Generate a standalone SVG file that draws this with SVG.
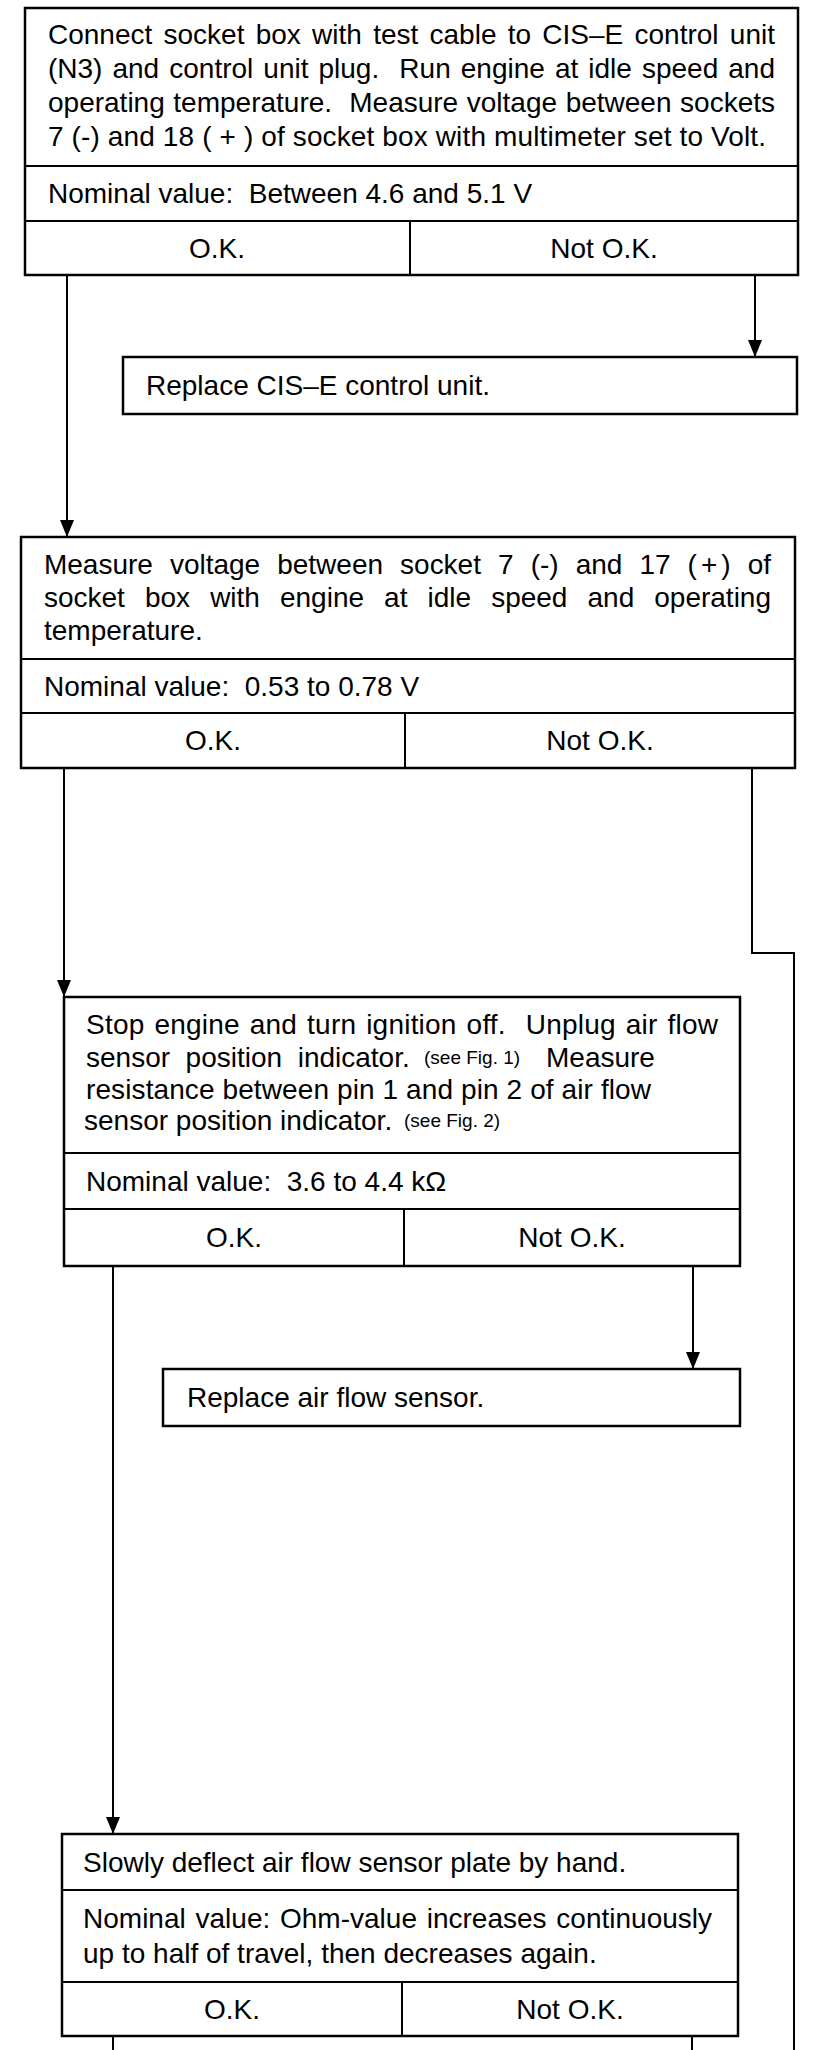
<svg xmlns="http://www.w3.org/2000/svg" width="816" height="2050" viewBox="0 0 816 2050">
<style>
.bg{fill:#fff}
.box{fill:#fff;stroke:#000;stroke-width:2.5}
.dv{stroke:#000;stroke-width:2;fill:none}
.w{stroke:#000;stroke-width:2;fill:none}
.t{font-family:"Liberation Sans",Arial,Helvetica,sans-serif;font-size:28px;fill:#000}
.s{font-size:19px}
.c{text-anchor:middle}
</style>
<defs>
<marker id="ah" markerUnits="userSpaceOnUse" markerWidth="17" markerHeight="14" refX="17" refY="7" orient="auto">
<path d="M0,0 L17,7 L0,14 z" fill="#000"/>
</marker>
</defs>
<rect class="bg" x="0" y="0" width="816" height="2050"/>

<g id="connectors">
<line class="w" x1="67" y1="275" x2="67" y2="537" marker-end="url(#ah)"/>
<line class="w" x1="755" y1="275" x2="755" y2="357" marker-end="url(#ah)"/>
<line class="w" x1="64" y1="768" x2="64" y2="997" marker-end="url(#ah)"/>
<polyline class="w" points="752,768 752,953 794,953 794,2050"/>
<line class="w" x1="693" y1="1266" x2="693" y2="1369" marker-end="url(#ah)"/>
<line class="w" x1="113" y1="1266" x2="113" y2="1834" marker-end="url(#ah)"/>
<line class="w" x1="113" y1="2036" x2="113" y2="2050"/>
<line class="w" x1="692" y1="2036" x2="692" y2="2050"/>
</g>

<g id="step1">
<rect class="box" x="25" y="8" width="773" height="267"/>
<line class="dv" x1="25" y1="166" x2="798" y2="166"/>
<line class="dv" x1="25" y1="221" x2="798" y2="221"/>
<line class="dv" x1="410" y1="221" x2="410" y2="275"/>
<text class="t" x="48" y="44" textLength="727" style="word-spacing:3.5px">Connect socket box with test cable to CIS–E control unit</text>
<text class="t" x="48" y="78" textLength="727" xml:space="preserve" style="word-spacing:2.3px">(N3) and control unit plug.  Run engine at idle speed and</text>
<text class="t" x="48" y="112" textLength="727" xml:space="preserve" style="word-spacing:0.8px">operating temperature.  Measure voltage between sockets</text>
<text class="t" x="48" y="146" textLength="718">7 (-) and 18 ( + ) of socket box with multimeter set to Volt.</text>
<text class="t" x="48" y="203" xml:space="preserve">Nominal value:  Between 4.6 and 5.1 V</text>
<text class="t c" x="217" y="258">O.K.</text>
<text class="t c" x="604" y="258">Not O.K.</text>
</g>

<g id="replace-control-unit">
<rect class="box" x="123" y="357" width="674" height="57"/>
<text class="t" x="146" y="395">Replace CIS–E control unit.</text>
</g>

<g id="step2">
<rect class="box" x="21" y="537" width="774" height="231"/>
<line class="dv" x1="21" y1="659" x2="795" y2="659"/>
<line class="dv" x1="21" y1="713" x2="795" y2="713"/>
<line class="dv" x1="405" y1="713" x2="405" y2="768"/>
<text class="t" x="44" y="574" textLength="727" style="word-spacing:9.3px">Measure voltage between socket 7 (-) and 17 (<tspan dx="4">+</tspan><tspan dx="4">)</tspan> of</text>
<text class="t" x="44" y="607" textLength="727" style="word-spacing:12.3px">socket box with engine at idle speed and operating</text>
<text class="t" x="44" y="640">temperature.</text>
<text class="t" x="44" y="696" xml:space="preserve">Nominal value:  0.53 to 0.78 V</text>
<text class="t c" x="213" y="750">O.K.</text>
<text class="t c" x="600" y="750">Not O.K.</text>
</g>

<g id="step3">
<rect class="box" x="64" y="997" width="676" height="269"/>
<line class="dv" x1="64" y1="1153" x2="740" y2="1153"/>
<line class="dv" x1="64" y1="1209" x2="740" y2="1209"/>
<line class="dv" x1="404" y1="1209" x2="404" y2="1266"/>
<text class="t" x="86" y="1034" textLength="632" xml:space="preserve" style="word-spacing:2px">Stop engine and turn ignition off.  Unplug air flow</text>
<text class="t" x="86" y="1067" xml:space="preserve">sensor  position  indicator.</text>
<text class="t s" x="424" y="1064">(see Fig. 1)</text>
<text class="t" x="546" y="1067">Measure</text>
<text class="t" x="86" y="1099" textLength="565">resistance between pin 1 and pin 2 of air flow</text>
<text class="t" x="84" y="1130">sensor position indicator.</text>
<text class="t s" x="404" y="1127">(see Fig. 2)</text>
<text class="t" x="86" y="1191" xml:space="preserve">Nominal value:  3.6 to 4.4 kΩ</text>
<text class="t c" x="234" y="1247">O.K.</text>
<text class="t c" x="572" y="1247">Not O.K.</text>
</g>

<g id="replace-air-flow-sensor">
<rect class="box" x="163" y="1369" width="577" height="57"/>
<text class="t" x="187" y="1407">Replace air flow sensor.</text>
</g>

<g id="step4">
<rect class="box" x="62" y="1834" width="676" height="202"/>
<line class="dv" x1="62" y1="1890" x2="738" y2="1890"/>
<line class="dv" x1="62" y1="1982" x2="738" y2="1982"/>
<line class="dv" x1="402" y1="1982" x2="402" y2="2036"/>
<text class="t" x="83" y="1872">Slowly deflect air flow sensor plate by hand.</text>
<text class="t" x="83" y="1928" textLength="629" style="word-spacing:2px">Nominal value: Ohm-value increases continuously</text>
<text class="t" x="83" y="1963">up to half of travel, then decreases again.</text>
<text class="t c" x="232" y="2019">O.K.</text>
<text class="t c" x="570" y="2019">Not O.K.</text>
</g>
</svg>
